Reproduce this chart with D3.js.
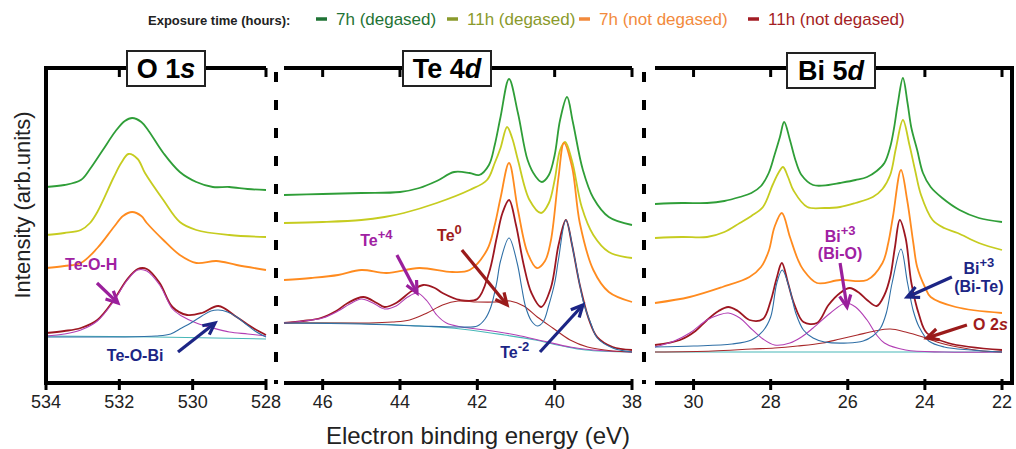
<!DOCTYPE html>
<html>
<head>
<meta charset="utf-8">
<script src="https://cdn.jsdelivr.net/npm/d3@7"></script>
<style>
  body { margin: 0; background: #fff; }
  text { font-family: "Liberation Sans", Arial, sans-serif; }
</style>
</head>
<body>
<svg id="chart" width="1016" height="449"></svg>
<script>
// ---- legend ----
var legendLabels = ['7h (degased)', '11h (degased)', '7h (not degased)', '11h (not degased)']
var legendColors = ['#1f7335', '#8a9a2b', '#f28a3c', '#a31d24']
var seriesColors = ['#2f9e38', '#c6cc20', '#ff8b1f', '#9d1721']

// ---- O 1s spectra: [binding energy eV, intensity arb.units] ----
var o1s7hDeg = [[534.0,196],[533.5,198],[533.05,203],[532.8,214],[532.45,233],[532.1,252],[531.85,262],[531.65,265],[531.4,261],[531.2,252],[530.8,230],[530.35,211],[529.9,201],[529.45,196],[529.0,196],[528.5,194],[528.0,193]]
var o1s11hDeg = [[534.0,148],[533.5,150],[533.05,153],[532.8,160],[532.6,171],[532.15,206],[531.95,220],[531.75,229],[531.5,224],[531.3,210],[530.8,183],[530.35,161],[529.9,153],[529.0,148],[528.0,146]]
var o1s7hNot = [[534.0,115],[533.5,117],[533.05,120],[532.6,135],[532.15,156],[531.9,167],[531.65,171],[531.4,167],[531.25,160],[530.8,143],[530.35,128],[529.9,120],[529.35,122],[528.8,118],[528.0,113]]
var o1s11hNot = [[534.0,50],[533.5,52],[533.05,55],[532.6,63],[532.15,83],[531.8,103],[531.5,114],[531.25,114],[530.9,100],[530.55,76],[530.15,68],[529.75,70],[529.3,77],[528.8,66],[528.35,55],[528.0,48]]
var o1sTeOH = [[534.0,47],[533.5,49],[533.05,53],[532.6,62],[532.15,82],[531.8,102],[531.5,113],[531.25,112],[530.9,98],[530.55,74],[530.3,67],[529.9,60],[529.45,55],[529.0,51],[528.5,49],[528.0,47]]
var o1sTeOBi = [[534.0,46],[533.0,46],[532.0,46],[531.0,47],[530.6,49],[530.3,55],[530.05,60],[529.75,67],[529.5,72],[529.3,73],[529.05,71],[528.8,66],[528.55,59],[528.3,52],[528.0,46]]
var o1sBackground = [[534.0,47],[531.0,46],[528.0,44]]

// ---- Te 4d ----
var te7hDeg = [[47.0,188],[46.0,189],[45.0,190],[44.0,191],[43.5,195],[43.05,202],[42.6,211],[42.2,210],[41.95,208],[41.7,218],[41.55,238],[41.4,266],[41.18,304],[40.95,270],[40.7,223],[40.5,207],[40.33,201],[40.15,208],[40.0,228],[39.86,263],[39.68,286],[39.53,261],[39.27,213],[39.0,185],[38.6,166],[38.0,158]]
var te11hDeg = [[47.0,160],[46.0,161],[45.0,163],[44.4,166],[43.9,170],[43.05,180],[42.2,193],[41.75,203],[41.55,220],[41.4,235],[41.23,256],[41.1,245],[40.95,223],[40.65,183],[40.35,170],[40.15,180],[40.0,203],[39.86,233],[39.73,241],[39.55,222],[39.3,176],[39.0,148],[38.6,131],[38.0,125]]
var te7hNot = [[47.0,103],[46.3,105],[45.6,108],[45.0,113],[44.35,110],[43.5,115],[42.65,111],[42.2,113],[41.75,133],[41.55,158],[41.4,185],[41.18,220],[40.95,173],[40.7,130],[40.46,115],[40.25,122],[40.1,142],[39.9,206],[39.76,240],[39.55,216],[39.35,160],[39.0,113],[38.6,91],[38.0,81]]
var te11hNot = [[47.0,60],[46.5,62],[46.05,65],[45.65,72],[45.35,80],[44.95,86],[44.6,80],[44.4,76],[44.1,80],[43.7,92],[43.4,98],[43.1,95],[42.9,90],[42.45,83],[42.0,84],[41.7,110],[41.5,145],[41.35,170],[41.18,183],[41.0,158],[40.8,118],[40.6,90],[40.35,76],[40.1,95],[39.9,138],[39.71,163],[39.55,138],[39.35,98],[39.1,62],[38.9,46],[38.5,36],[38.0,33]]
var tePlus4 = [[47.0,60],[46.5,62],[46.0,65],[45.6,72],[45.3,79],[45.0,84],[44.7,80],[44.4,74],[44.1,77],[43.8,86],[43.55,90],[43.3,82],[43.05,68],[42.8,60],[42.4,56],[41.8,53],[41.0,48],[40.3,42],[39.6,36],[39.0,33],[38.0,31]]
var teZero = [[47.0,60],[45.5,60],[44.8,60],[44.2,61],[43.75,63],[43.3,70],[42.9,78],[42.5,82],[42.0,81],[41.5,81],[41.15,82],[40.8,77],[40.45,66],[40.05,55],[39.6,43],[39.15,36],[38.5,32],[38.0,31]]
var teMinus2 = [[47.0,60],[45.0,59],[43.5,57],[42.5,56],[42.0,57],[41.8,64],[41.65,76],[41.5,100],[41.4,122],[41.18,145],[40.97,120],[40.85,95],[40.75,76],[40.6,62],[40.45,57],[40.3,61],[40.15,78],[40.0,100],[39.9,124],[39.71,163],[39.5,128],[39.35,98],[39.25,80],[39.05,58],[38.9,45],[38.5,35],[38.0,31]]
var teBackground = [[47.0,60],[45.5,60],[44.0,58],[43.0,56],[42.2,53],[41.3,48],[40.5,43],[39.8,37],[39.2,33],[38.0,31]]

// ---- Bi 5d ----
var bi7hDeg = [[31.0,179],[30.3,180],[29.65,180],[29.2,182],[28.8,186],[28.5,190],[28.25,197],[28.05,210],[27.9,228],[27.76,246],[27.65,261],[27.5,243],[27.35,222],[27.2,208],[26.9,198],[26.5,198],[26.2,200],[25.8,203],[25.5,206],[25.25,212],[25.05,220],[24.9,236],[24.8,255],[24.7,280],[24.57,305],[24.45,280],[24.35,255],[24.2,233],[24.05,210],[23.85,196],[23.55,185],[23.1,173],[22.6,165],[22.0,161]]
var bi11hDeg = [[31.0,145],[30.3,146],[29.65,146],[29.2,151],[28.8,160],[28.5,167],[28.2,176],[27.95,198],[27.8,210],[27.68,216],[27.55,206],[27.4,192],[27.05,176],[26.6,175],[26.2,176],[25.8,180],[25.35,186],[25.1,194],[24.9,208],[24.75,235],[24.57,263],[24.4,238],[24.25,212],[24.1,188],[23.8,163],[23.5,155],[23.15,150],[22.6,140],[22.0,133]]
var bi7hNot = [[31.0,80],[30.1,86],[29.25,96],[28.55,106],[28.25,116],[28.05,132],[27.9,156],[27.71,170],[27.5,146],[27.3,124],[27.15,113],[26.8,100],[26.2,103],[25.5,103],[25.1,120],[24.95,140],[24.83,166],[24.62,213],[24.46,183],[24.3,140],[24.2,116],[24.0,96],[23.85,86],[23.2,76],[22.0,70]]
var bi11hNot = [[31.0,38],[30.35,43],[29.95,52],[29.65,63],[29.35,72],[29.1,76],[28.85,72],[28.55,63],[28.2,64],[28.0,82],[27.85,104],[27.71,120],[27.55,100],[27.4,80],[27.15,61],[26.8,60],[26.5,78],[26.2,90],[25.95,95],[25.7,90],[25.5,83],[25.25,77],[25.05,88],[24.9,106],[24.78,135],[24.65,163],[24.5,145],[24.35,100],[24.15,68],[23.95,50],[23.4,40],[22.0,33]]
var biTe = [[31.0,36],[30.0,37],[29.0,39],[28.5,43],[28.2,52],[28.0,66],[27.84,100],[27.7,113],[27.5,93],[27.35,70],[27.15,53],[26.9,45],[26.6,41],[26.0,40],[25.6,42],[25.35,47],[25.15,55],[25.0,70],[24.85,100],[24.62,134],[24.45,100],[24.3,72],[24.15,56],[23.9,42],[23.5,36],[22.8,33],[22.0,31]]
var biO = [[31.0,36],[30.5,42],[30.1,50],[29.65,63],[29.35,68],[29.1,70],[28.8,65],[28.55,56],[28.2,44],[27.9,38],[27.5,40],[27.2,46],[26.9,55],[26.45,70],[26.05,80],[25.8,76],[25.5,63],[25.25,48],[25.05,40],[24.5,33],[23.5,31],[22.0,31]]
var o2s = [[31.0,31],[29.5,32],[28.5,34],[27.9,35],[27.3,37],[26.65,40],[26.2,44],[25.75,48],[25.3,52],[24.9,54],[24.5,51],[24.05,46],[23.6,40],[23.15,36],[22.5,32],[22.0,31]]
var biBackground = [[31.0,31],[22.0,31]]

// ---- ticks ----
var o1sTicks = [534, 532, 530, 528]
var teTicks = [46, 44, 42, 40, 38]
var biTicks = [30, 28, 26, 24, 22]

var magenta = '#b23fb4', blue = '#2f6fa6', redThin = '#a8282a', cyan = '#48b8b8'
var txtMagenta = '#a021a2', txtNavy = '#1c2585', txtRed = '#a01c1c'

var svg = d3.select('#chart')
var yTop = 68, yBase = 383
var y = d3.scaleLinear().domain([0, 315]).range([yBase, yTop])

var panels = [
  {title: ['O 1', 's'], domain: [534, 528], range: [46, 266], frame: [46, 266], ticks: o1sTicks,
   spectra: [o1s7hDeg, o1s11hDeg, o1s7hNot, o1s11hNot],
   comps: [[o1sBackground, cyan], [o1sTeOH, magenta], [o1sTeOBi, blue]],
   box: [127, 51, 78, 35]},
  {title: ['Te 4', 'd'], domain: [47, 38], range: [284, 632], frame: [284, 632], ticks: teTicks,
   spectra: [te7hDeg, te11hDeg, te7hNot, te11hNot],
   comps: [[teBackground, cyan], [tePlus4, magenta], [teZero, redThin], [teMinus2, blue]],
   box: [403, 51, 88, 35]},
  {title: ['Bi 5', 'd'], domain: [31, 22], range: [655, 1002], frame: [655, 1012], ticks: biTicks,
   spectra: [bi7hDeg, bi11hDeg, bi7hNot, bi11hNot],
   comps: [[biBackground, cyan], [biO, magenta], [o2s, redThin], [biTe, blue]],
   box: [787, 53, 88, 35]}
]

function arrow(g, x, p0, p1, color) {
  var x0 = x(p0[0]), y0 = y(p0[1]), x1 = x(p1[0]), y1 = y(p1[1])
  var a = Math.atan2(y1 - y0, x1 - x0), L = 13, s = 0.45
  g.append('line')
    .attr('x1', x0).attr('y1', y0).attr('x2', x1 - Math.cos(a) * 2).attr('y2', y1 - Math.sin(a) * 2)
    .style('stroke', color).style('stroke-width', 3.2)
  g.append('path')
    .attr('d', 'M' + (x1 - L * Math.cos(a - s)) + ',' + (y1 - L * Math.sin(a - s)) +
      'L' + x1 + ',' + y1 +
      'L' + (x1 - L * Math.cos(a + s)) + ',' + (y1 - L * Math.sin(a + s)))
    .style('fill', 'none').style('stroke', color).style('stroke-width', 3.2)
    .style('stroke-linejoin', 'miter')
}

function label(g, x, pos, main, sup, color, anchor) {
  var t = g.append('text')
    .attr('x', x(pos[0])).attr('y', y(pos[1]))
    .attr('text-anchor', anchor || 'start')
    .style('font-size', '16px').style('font-weight', 'bold').style('fill', color)
    .text(main)
  if (sup) t.append('tspan').attr('dy', -7).style('font-size', '13px').text(sup)
  return t
}

panels.forEach(function(p, i) {
  var x = d3.scaleLinear().domain(p.domain).range(p.range)
  var g = svg.append('g').attr('class', 'panel-' + i)
  var line = d3.line()
    .x(d => x(d[0]))
    .y(d => y(d[1]))
    .curve(d3.curveCatmullRom.alpha(0.5))

  // frame: top and bottom lines
  g.append('line').attr('x1', p.frame[0]).attr('x2', p.frame[1]).attr('y1', yTop).attr('y2', yTop)
    .style('stroke', '#000').style('stroke-width', 4)
  g.append('line').attr('x1', p.frame[0]).attr('x2', p.frame[1]).attr('y1', yBase).attr('y2', yBase)
    .style('stroke', '#000').style('stroke-width', 4)

  // ticks
  g.selectAll('.top-tick').data(p.ticks).enter().append('line')
    .attr('x1', d => x(d)).attr('x2', d => x(d)).attr('y1', yTop).attr('y2', yTop + 9)
    .style('stroke', '#000').style('stroke-width', 3)
  g.selectAll('.bot-tick').data(p.ticks).enter().append('line')
    .attr('x1', d => x(d)).attr('x2', d => x(d)).attr('y1', yBase - 4).attr('y2', yBase + 7)
    .style('stroke', '#000').style('stroke-width', 3)
  g.selectAll('.tick-label').data(p.ticks).enter().append('text')
    .attr('x', d => x(d)).attr('y', yBase + 25)
    .attr('text-anchor', 'middle')
    .style('font-size', '18px').style('fill', '#222')
    .text(d => d)

  // spectra
  g.selectAll('.spectrum').data(p.spectra).enter().append('path')
    .attr('d', line)
    .style('fill', 'none')
    .style('stroke', (d, k) => seriesColors[k])
    .style('stroke-width', 1.8)

  // fit components
  p.comps.forEach(function(c) {
    g.append('path').attr('d', line(c[0]))
      .style('fill', 'none').style('stroke', c[1]).style('stroke-width', 1.1)
  })

  // title box
  g.append('rect').attr('x', p.box[0]).attr('y', p.box[1]).attr('width', p.box[2]).attr('height', p.box[3])
    .style('fill', '#fff').style('stroke', '#222').style('stroke-width', 2)
  var tt = g.append('text')
    .attr('x', p.box[0] + p.box[2] / 2).attr('y', p.box[1] + 27)
    .attr('text-anchor', 'middle')
    .style('font-size', '27px').style('font-weight', 'bold').style('fill', '#000')
    .text(p.title[0])
  tt.append('tspan').style('font-style', 'italic').text(p.title[1])

  p.x = x
  p.g = g
})

// outer solid sides and dashed separators
svg.append('line').attr('x1', 46).attr('x2', 46).attr('y1', yTop - 2).attr('y2', yBase + 2)
  .style('stroke', '#000').style('stroke-width', 4)
svg.append('line').attr('x1', 1012).attr('x2', 1012).attr('y1', yTop - 2).attr('y2', yBase + 2)
  .style('stroke', '#000').style('stroke-width', 4)
;[276, 644].forEach(function(xx) {
  svg.append('line').attr('x1', xx).attr('x2', xx).attr('y1', 72).attr('y2', 384)
    .style('stroke', '#000').style('stroke-width', 4).style('stroke-dasharray', '10,18')
})

// annotations
var p0 = panels[0], p1 = panels[1], p2 = panels[2]
label(p0.g, p0.x, [533.48, 113], 'Te-O-H', null, txtMagenta)
arrow(p0.g, p0.x, [532.61, 100], [532.04, 80], '#9a1f9c')
label(p0.g, p0.x, [532.34, 22], 'Te-O-Bi', null, txtNavy)
arrow(p0.g, p0.x, [530.4, 31], [529.39, 60], '#1c2585')

label(p1.g, p1.x, [45.03, 137], 'Te', '+4', txtMagenta)
arrow(p1.g, p1.x, [44.08, 128], [43.56, 90], '#9a1f9c')
label(p1.g, p1.x, [43.04, 142], 'Te', '0', txtRed)
arrow(p1.g, p1.x, [42.4, 133], [41.23, 78], '#9a1b1b')
label(p1.g, p1.x, [41.41, 25], 'Te', '-2', txtNavy)
arrow(p1.g, p1.x, [40.38, 31], [39.27, 78], '#1c2585')

label(p2.g, p2.x, [26.2, 141], 'Bi', '+3', txtMagenta, 'middle')
label(p2.g, p2.x, [26.2, 124], '(Bi-O)', null, txtMagenta, 'middle')
arrow(p2.g, p2.x, [26.2, 120], [26.02, 76], '#9a1f9c')
label(p2.g, p2.x, [22.6, 109], 'Bi', '+3', txtNavy, 'middle')
label(p2.g, p2.x, [22.6, 91], '(Bi-Te)', null, txtNavy, 'middle')
arrow(p2.g, p2.x, [23.3, 106], [24.46, 86], '#1c2585')
label(p2.g, p2.x, [22.75, 53], 'O 2', null, txtRed).append('tspan').style('font-style', 'italic').text('s')
arrow(p2.g, p2.x, [22.91, 58], [23.95, 45], '#9a1b1b')

// axis titles
svg.append('text').attr('x', 478).attr('y', 444).attr('text-anchor', 'middle')
  .style('font-size', '24px').style('fill', '#222').text('Electron binding energy (eV)')
svg.append('text').attr('transform', 'translate(30,205) rotate(-90)').attr('text-anchor', 'middle')
  .style('font-size', '22px').style('fill', '#222').text('Intensity (arb.units)')

// legend
svg.append('text').attr('x', 148).attr('y', 25)
  .style('font-size', '13px').style('font-weight', 'bold').style('fill', '#222')
  .text('Exposure time (hours):')
var legendX = [316, 447, 579, 748]
var legend = svg.selectAll('.legend').data(legendLabels).enter().append('g')
  .attr('transform', (d, k) => 'translate(' + legendX[k] + ',0)')
legend.append('line').attr('x1', 0).attr('x2', 11).attr('y1', 19).attr('y2', 19)
  .style('stroke', (d, k) => legendColors[k]).style('stroke-width', 3.5)
legend.append('text').attr('x', 20).attr('y', 25)
  .style('font-size', '17px').style('fill', (d, k) => legendColors[k])
  .text(d => d)
</script>
</body>
</html>
